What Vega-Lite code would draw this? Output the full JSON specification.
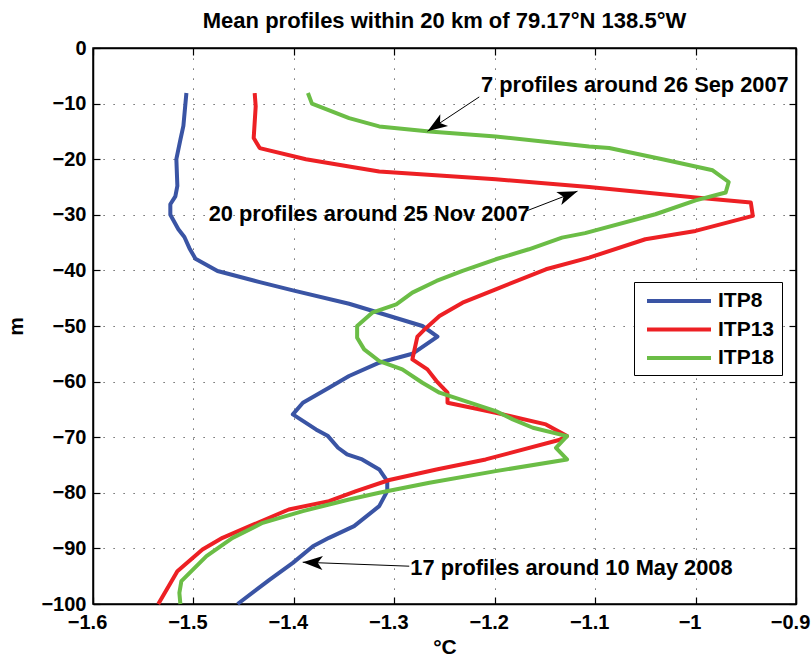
{
  "$schema": "https://vega.github.io/schema/vega-lite/v6.json",
  "width": 703,
  "height": 556,
  "autosize": {"type": "none"},
  "padding": {"left": 93, "top": 48, "right": 16, "bottom": 52},
  "background": "white",
  "title": {
    "text": "Mean profiles within 20 km of 79.17°N 138.5°W",
    "font": "Liberation Sans",
    "fontSize": 22,
    "fontWeight": "bold",
    "color": "black",
    "anchor": "middle",
    "offset": 5
  },
  "config": {
    "view": {"stroke": "black", "strokeWidth": 1.5},
    "font": "Liberation Sans",
    "axis": {
      "labelFont": "Liberation Sans",
      "labelFontSize": 20,
      "labelFontWeight": "bold",
      "labelColor": "black",
      "titleFont": "Liberation Sans",
      "titleFontSize": 21,
      "titleFontWeight": "bold",
      "titleColor": "black",
      "domainColor": "black",
      "domainWidth": 1.5,
      "tickColor": "black",
      "tickWidth": 1.2,
      "tickSize": -7,
      "gridColor": "#333333",
      "gridWidth": 1,
      "gridDash": [1.2, 8.8],
      "gridOpacity": 0.9
    }
  },
  "datasets": {
    "profiles": [
      {"itp": "ITP8", "depth": -8.1, "temp": -1.507},
      {"itp": "ITP8", "depth": -14, "temp": -1.51},
      {"itp": "ITP8", "depth": -16.5, "temp": -1.513},
      {"itp": "ITP8", "depth": -20, "temp": -1.517},
      {"itp": "ITP8", "depth": -24.8, "temp": -1.516},
      {"itp": "ITP8", "depth": -26.7, "temp": -1.518},
      {"itp": "ITP8", "depth": -28.1, "temp": -1.523},
      {"itp": "ITP8", "depth": -30, "temp": -1.523},
      {"itp": "ITP8", "depth": -32.6, "temp": -1.515},
      {"itp": "ITP8", "depth": -34, "temp": -1.509},
      {"itp": "ITP8", "depth": -36, "temp": -1.504},
      {"itp": "ITP8", "depth": -37.9, "temp": -1.498},
      {"itp": "ITP8", "depth": -40.1, "temp": -1.476},
      {"itp": "ITP8", "depth": -42.1, "temp": -1.434},
      {"itp": "ITP8", "depth": -43.6, "temp": -1.401},
      {"itp": "ITP8", "depth": -46, "temp": -1.345},
      {"itp": "ITP8", "depth": -50, "temp": -1.272},
      {"itp": "ITP8", "depth": -51.9, "temp": -1.257},
      {"itp": "ITP8", "depth": -55, "temp": -1.282},
      {"itp": "ITP8", "depth": -56.6, "temp": -1.315},
      {"itp": "ITP8", "depth": -59, "temp": -1.345},
      {"itp": "ITP8", "depth": -61.1, "temp": -1.365},
      {"itp": "ITP8", "depth": -63.8, "temp": -1.391},
      {"itp": "ITP8", "depth": -65.9, "temp": -1.401},
      {"itp": "ITP8", "depth": -68.6, "temp": -1.378},
      {"itp": "ITP8", "depth": -69.8, "temp": -1.366},
      {"itp": "ITP8", "depth": -71.9, "temp": -1.356},
      {"itp": "ITP8", "depth": -73.1, "temp": -1.347},
      {"itp": "ITP8", "depth": -74, "temp": -1.332},
      {"itp": "ITP8", "depth": -75.8, "temp": -1.315},
      {"itp": "ITP8", "depth": -77.9, "temp": -1.307},
      {"itp": "ITP8", "depth": -79.7, "temp": -1.307},
      {"itp": "ITP8", "depth": -82.4, "temp": -1.315},
      {"itp": "ITP8", "depth": -86, "temp": -1.34},
      {"itp": "ITP8", "depth": -88.1, "temp": -1.365},
      {"itp": "ITP8", "depth": -89.6, "temp": -1.381},
      {"itp": "ITP8", "depth": -92.6, "temp": -1.401},
      {"itp": "ITP8", "depth": -95.6, "temp": -1.424},
      {"itp": "ITP8", "depth": -100, "temp": -1.456},

      {"itp": "ITP13", "depth": -8.1, "temp": -1.439},
      {"itp": "ITP13", "depth": -10.5, "temp": -1.438},
      {"itp": "ITP13", "depth": -16.2, "temp": -1.44},
      {"itp": "ITP13", "depth": -18, "temp": -1.434},
      {"itp": "ITP13", "depth": -20, "temp": -1.388},
      {"itp": "ITP13", "depth": -21.3, "temp": -1.345},
      {"itp": "ITP13", "depth": -22.2, "temp": -1.315},
      {"itp": "ITP13", "depth": -23.6, "temp": -1.199},
      {"itp": "ITP13", "depth": -25, "temp": -1.106},
      {"itp": "ITP13", "depth": -26.9, "temp": -1.0},
      {"itp": "ITP13", "depth": -27.8, "temp": -0.945},
      {"itp": "ITP13", "depth": -30.2, "temp": -0.943},
      {"itp": "ITP13", "depth": -32.9, "temp": -1.0},
      {"itp": "ITP13", "depth": -34.4, "temp": -1.05},
      {"itp": "ITP13", "depth": -37.7, "temp": -1.106},
      {"itp": "ITP13", "depth": -39.8, "temp": -1.149},
      {"itp": "ITP13", "depth": -43.4, "temp": -1.199},
      {"itp": "ITP13", "depth": -45.8, "temp": -1.232},
      {"itp": "ITP13", "depth": -48.2, "temp": -1.255},
      {"itp": "ITP13", "depth": -50.3, "temp": -1.268},
      {"itp": "ITP13", "depth": -51.9, "temp": -1.277},
      {"itp": "ITP13", "depth": -56, "temp": -1.282},
      {"itp": "ITP13", "depth": -57.8, "temp": -1.267},
      {"itp": "ITP13", "depth": -59.9, "temp": -1.258},
      {"itp": "ITP13", "depth": -62, "temp": -1.247},
      {"itp": "ITP13", "depth": -63.8, "temp": -1.247},
      {"itp": "ITP13", "depth": -65.6, "temp": -1.199},
      {"itp": "ITP13", "depth": -67.7, "temp": -1.149},
      {"itp": "ITP13", "depth": -69.8, "temp": -1.128},
      {"itp": "ITP13", "depth": -70.5, "temp": -1.136},
      {"itp": "ITP13", "depth": -74, "temp": -1.209},
      {"itp": "ITP13", "depth": -75.8, "temp": -1.258},
      {"itp": "ITP13", "depth": -77.7, "temp": -1.305},
      {"itp": "ITP13", "depth": -79.7, "temp": -1.338},
      {"itp": "ITP13", "depth": -81.5, "temp": -1.365},
      {"itp": "ITP13", "depth": -83, "temp": -1.405},
      {"itp": "ITP13", "depth": -86, "temp": -1.444},
      {"itp": "ITP13", "depth": -88.1, "temp": -1.471},
      {"itp": "ITP13", "depth": -90.2, "temp": -1.491},
      {"itp": "ITP13", "depth": -94.1, "temp": -1.516},
      {"itp": "ITP13", "depth": -100, "temp": -1.535},

      {"itp": "ITP18", "depth": -8.1, "temp": -1.386},
      {"itp": "ITP18", "depth": -10, "temp": -1.382},
      {"itp": "ITP18", "depth": -12.6, "temp": -1.345},
      {"itp": "ITP18", "depth": -14.1, "temp": -1.315},
      {"itp": "ITP18", "depth": -15, "temp": -1.265},
      {"itp": "ITP18", "depth": -15.9, "temp": -1.199},
      {"itp": "ITP18", "depth": -17.7, "temp": -1.106},
      {"itp": "ITP18", "depth": -18, "temp": -1.086},
      {"itp": "ITP18", "depth": -20, "temp": -1.033},
      {"itp": "ITP18", "depth": -22, "temp": -0.983},
      {"itp": "ITP18", "depth": -24.1, "temp": -0.967},
      {"itp": "ITP18", "depth": -26, "temp": -0.97},
      {"itp": "ITP18", "depth": -27.4, "temp": -1.0},
      {"itp": "ITP18", "depth": -29.9, "temp": -1.04},
      {"itp": "ITP18", "depth": -33.3, "temp": -1.11},
      {"itp": "ITP18", "depth": -34.1, "temp": -1.133},
      {"itp": "ITP18", "depth": -36.2, "temp": -1.166},
      {"itp": "ITP18", "depth": -38, "temp": -1.199},
      {"itp": "ITP18", "depth": -40.1, "temp": -1.232},
      {"itp": "ITP18", "depth": -41.9, "temp": -1.258},
      {"itp": "ITP18", "depth": -44, "temp": -1.282},
      {"itp": "ITP18", "depth": -46.1, "temp": -1.298},
      {"itp": "ITP18", "depth": -47.6, "temp": -1.322},
      {"itp": "ITP18", "depth": -50, "temp": -1.337},
      {"itp": "ITP18", "depth": -52.1, "temp": -1.337},
      {"itp": "ITP18", "depth": -54.2, "temp": -1.33},
      {"itp": "ITP18", "depth": -56.3, "temp": -1.315},
      {"itp": "ITP18", "depth": -57.8, "temp": -1.292},
      {"itp": "ITP18", "depth": -60.2, "temp": -1.272},
      {"itp": "ITP18", "depth": -62, "temp": -1.255},
      {"itp": "ITP18", "depth": -65.3, "temp": -1.199},
      {"itp": "ITP18", "depth": -66.8, "temp": -1.182},
      {"itp": "ITP18", "depth": -68.3, "temp": -1.162},
      {"itp": "ITP18", "depth": -69.8, "temp": -1.128},
      {"itp": "ITP18", "depth": -71.9, "temp": -1.139},
      {"itp": "ITP18", "depth": -74, "temp": -1.128},
      {"itp": "ITP18", "depth": -76.1, "temp": -1.199},
      {"itp": "ITP18", "depth": -78.2, "temp": -1.265},
      {"itp": "ITP18", "depth": -80, "temp": -1.315},
      {"itp": "ITP18", "depth": -81.2, "temp": -1.345},
      {"itp": "ITP18", "depth": -82.1, "temp": -1.365},
      {"itp": "ITP18", "depth": -83.3, "temp": -1.391},
      {"itp": "ITP18", "depth": -85.4, "temp": -1.431},
      {"itp": "ITP18", "depth": -88.1, "temp": -1.461},
      {"itp": "ITP18", "depth": -91.4, "temp": -1.487},
      {"itp": "ITP18", "depth": -95.9, "temp": -1.512},
      {"itp": "ITP18", "depth": -98, "temp": -1.514},
      {"itp": "ITP18", "depth": -100, "temp": -1.513}
    ],
    "notes": [
      {"note": "a", "label": "7 profiles around 26 Sep 2007", "tx": -1.2137, "ty": -7.95, "ax": -1.2154, "ay": -8.8, "hx": -1.2669, "hy": -14.96},
      {"note": "b", "label": "20 profiles around 25 Nov 2007", "tx": -1.4848, "ty": -31.15, "ax": -1.169, "ay": -29.35, "hx": -1.1176, "hy": -25.76},
      {"note": "c", "label": "17 profiles around 10 May 2008", "tx": -1.284, "ty": -94.8, "ax": -1.2851, "ay": -93.2, "hx": -1.3912, "hy": -92.48}
    ]
  },
  "layer": [
    {
      "data": {"name": "profiles"},
      "mark": {"type": "line", "strokeWidth": 4, "strokeJoin": "round", "strokeCap": "butt"},
      "encoding": {
        "x": {
          "field": "temp", "type": "quantitative",
          "scale": {"domain": [-1.6, -0.9], "nice": false, "zero": false},
          "axis": {"orient": "bottom", "title": "°C", "values": [-1.6, -1.5, -1.4, -1.3, -1.2, -1.1, -1.0, -0.9], "format": "~g", "grid": true, "labelPadding": 15, "labelOffset": -6, "titlePadding": 4, "labelFlush": false}
        },
        "y": {
          "field": "depth", "type": "quantitative",
          "scale": {"domain": [-100, 0], "nice": false, "zero": false},
          "axis": {"orient": "left", "title": "m", "values": [0, -10, -20, -30, -40, -50, -60, -70, -80, -90, -100], "format": "d", "grid": true, "labelPadding": 14, "titlePadding": 14, "labelFlush": false}
        },
        "color": {
          "field": "itp", "type": "nominal",
          "scale": {"domain": ["ITP8", "ITP13", "ITP18"], "range": ["#3a54a4", "#ed2024", "#6bbd46"]},
          "legend": {
            "orient": "none", "legendX": 541, "legendY": 234, "title": null,
            "symbolType": "M-1,0L5.4,0", "symbolSize": 400, "symbolStrokeWidth": 4, "symbolOffset": 4,
            "labelFont": "Liberation Sans", "labelFontSize": 21, "labelFontWeight": "bold", "labelColor": "black",
            "labelOffset": 49, "strokeColor": "black", "fillColor": "white", "padding": 7, "rowPadding": 6.5
          }
        },
        "order": {"field": "depth", "sort": "descending"}
      }
    },
    {
      "data": {"name": "profiles"},
      "mark": {"type": "line", "opacity": 0},
      "encoding": {
        "x": {"field": "temp", "type": "quantitative", "axis": {"orient": "top", "title": null, "labels": false, "grid": false, "values": [-1.6, -1.5, -1.4, -1.3, -1.2, -1.1, -1.0, -0.9]}},
        "y": {"field": "depth", "type": "quantitative", "axis": {"orient": "right", "title": null, "labels": false, "grid": false, "values": [0, -10, -20, -30, -40, -50, -60, -70, -80, -90, -100]}},
        "detail": {"field": "itp"}
      }
    },
    {
      "data": {"name": "notes"},
      "mark": {"type": "rule", "color": "black", "strokeWidth": 1},
      "encoding": {
        "x": {"field": "ax", "type": "quantitative", "axis": null},
        "y": {"field": "ay", "type": "quantitative", "axis": null},
        "x2": {"field": "hx"},
        "y2": {"field": "hy"}
      }
    },
    {
      "data": {"name": "notes"},
      "mark": {"type": "text", "align": "left", "baseline": "alphabetic", "font": "Liberation Sans", "fontSize": 21.8, "fontWeight": "bold", "color": "black"},
      "encoding": {
        "x": {"field": "tx", "type": "quantitative", "axis": null},
        "y": {"field": "ty", "type": "quantitative", "axis": null},
        "text": {"field": "label"}
      }
    },
    {
      "data": {"name": "notes"},
      "transform": [{"filter": "datum.note === 'a'"}],
      "mark": {"type": "point", "shape": "M0,0L-0.7,2L0,1.5L0.7,2Z", "size": 400, "filled": true, "color": "black", "opacity": 1, "strokeWidth": 0, "angle": 236.4},
      "encoding": {
        "x": {"field": "hx", "type": "quantitative", "axis": null},
        "y": {"field": "hy", "type": "quantitative", "axis": null}
      }
    },
    {
      "data": {"name": "notes"},
      "transform": [{"filter": "datum.note === 'b'"}],
      "mark": {"type": "point", "shape": "M0,0L-0.7,2L0,1.5L0.7,2Z", "size": 400, "filled": true, "color": "black", "opacity": 1, "strokeWidth": 0, "angle": 68.8},
      "encoding": {
        "x": {"field": "hx", "type": "quantitative", "axis": null},
        "y": {"field": "hy", "type": "quantitative", "axis": null}
      }
    },
    {
      "data": {"name": "notes"},
      "transform": [{"filter": "datum.note === 'c'"}],
      "mark": {"type": "point", "shape": "M0,0L-0.7,2L0,1.5L0.7,2Z", "size": 400, "filled": true, "color": "black", "opacity": 1, "strokeWidth": 0, "angle": 272.1},
      "encoding": {
        "x": {"field": "hx", "type": "quantitative", "axis": null},
        "y": {"field": "hy", "type": "quantitative", "axis": null}
      }
    }
  ],
  "resolve": {"axis": {"x": "independent", "y": "independent"}}
}
